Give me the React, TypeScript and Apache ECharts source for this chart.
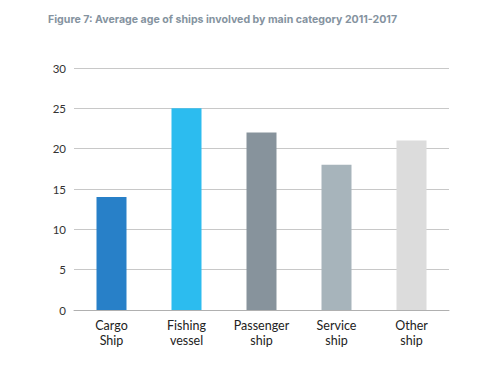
import React, { useEffect, useRef } from "react";
import * as echarts from "echarts";

const categories = ["Cargo\nShip", "Fishing\nvessel", "Passenger\nship", "Service\nship", "Other\nship"];
const values = [14, 25, 22, 18, 21];
const colors = ["#2880c8", "#2cbcef", "#87939c", "#a7b4bb", "#dcdcdc"];

export default function App() {
  const ref = useRef<HTMLDivElement>(null);
  useEffect(() => {
    if (!ref.current) return;
    const chart = echarts.init(ref.current, null, { renderer: "svg" });
    chart.setOption({
      animation: false,
      title: {
        text: "Figure 7: Average age of ships involved by main category 2011-2017",
        left: 43,
        top: 9,
        textStyle: { fontFamily: "Inter", fontSize: 10.6, fontWeight: "bold", color: "#8593a0" },
      },
      grid: { left: 74, right: 31, top: 68, bottom: 57 },
      xAxis: {
        type: "category",
        data: categories,
        axisLine: { lineStyle: { color: "#b0b0b0", width: 1 } },
        axisTick: { show: false },
        axisLabel: { color: "#222", fontFamily: "Lato", fontSize: 12.5, lineHeight: 15, margin: 8 },
      },
      yAxis: {
        type: "value",
        min: 0,
        max: 30,
        interval: 5,
        axisLine: { show: false },
        axisTick: { show: false },
        splitLine: { lineStyle: { color: "#c8c8c8", width: 1 } },
        axisLabel: { color: "#333", fontFamily: "Lato", fontSize: 11.5, margin: 8 },
      },
      series: [
        {
          type: "bar",
          barWidth: 30,
          data: values.map((v, i) => ({ value: v, itemStyle: { color: colors[i] } })),
        },
      ],
    });
    return () => chart.dispose();
  }, []);
  return <div ref={ref} style={{ position: "fixed", left: 0, top: 0, width: 480, height: 367, background: "#fff" }} />;
}
